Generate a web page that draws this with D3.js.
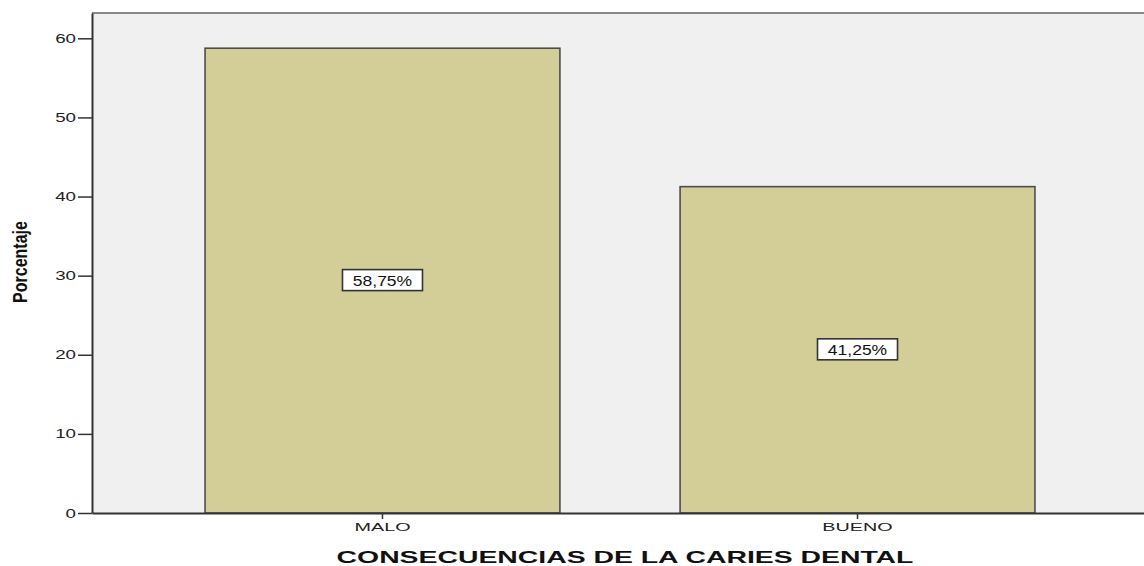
<!DOCTYPE html>
<html>
<head>
<meta charset="utf-8">
<script src="https://cdn.jsdelivr.net/npm/d3@7"></script>
<style>
  body { margin: 0; background: #fff; }
  svg { display: block; font-family: "Liberation Sans", Arial, sans-serif; }
</style>
</head>
<body>
<div id="chart"></div>
<script>
// data
var categories = ['MALO', 'BUENO'];
var percents = [58.75, 41.25];
var valueLabels = ['58,75%', '41,25%'];
var yTicks = [0, 10, 20, 30, 40, 50, 60];

var svgWidth = 1144;
var svgHeight = 566;

var margin = { top: 13, right: -4, bottom: 53, left: 92 };
var chartWidth = svgWidth - margin.left - margin.right;
var chartHeight = svgHeight - margin.top - margin.bottom;

// the original picture is stretched sideways, so texts get a wider x scale
var tickStretch = 1.5;
var catStretch = 1.8;
var valueStretch = 1.25;
var titleStretch = 1.72;

var svg = d3.select('#chart').append('svg')
  .attr('width', svgWidth)
  .attr('height', svgHeight);

var chartGroup = svg.append('g')
  .attr('transform', `translate(${margin.left}, ${margin.top})`);

var yScale = d3.scaleLinear()
  .domain([0, 63.2])
  .range([chartHeight, 0]);

var xScale = d3.scaleBand()
  .domain(categories)
  .range([0, chartWidth])
  .paddingInner(0.253)
  .paddingOuter(0.238);

// background
chartGroup.append('rect')
  .attr('x', 0).attr('y', 0)
  .attr('width', chartWidth).attr('height', chartHeight)
  .attr('fill', '#f0f0f0');

// top border
chartGroup.append('line')
  .attr('x1', 0).attr('x2', chartWidth)
  .attr('y1', 0).attr('y2', 0)
  .attr('stroke', '#888').attr('stroke-width', 2);

// bars
chartGroup.selectAll('rect.bar')
  .data(percents)
  .enter()
  .append('rect')
  .attr('class', 'bar')
  .attr('x', (d, i) => xScale(categories[i]))
  .attr('y', d => yScale(d))
  .attr('width', xScale.bandwidth())
  .attr('height', d => chartHeight - yScale(d))
  .attr('fill', '#d3ce98')
  .attr('stroke', '#4d4d4d')
  .attr('stroke-width', 1.6);

// value labels in boxes
var labelGroups = chartGroup.selectAll('g.vlabel')
  .data(percents)
  .enter()
  .append('g')
  .attr('class', 'vlabel')
  .attr('transform', (d, i) => `translate(${xScale(categories[i]) + xScale.bandwidth() / 2}, ${yScale(d / 2)})`);

labelGroups.append('rect')
  .attr('x', -40).attr('y', -11)
  .attr('width', 80).attr('height', 21)
  .attr('fill', '#fff')
  .attr('stroke', '#333')
  .attr('stroke-width', 1.6);

labelGroups.append('text')
  .attr('text-anchor', 'middle')
  .attr('transform', `scale(${valueStretch}, 1)`)
  .attr('dy', '0.35em')
  .style('font-size', '14px')
  .attr('fill', '#111')
  .text((d, i) => valueLabels[i]);

// y axis
var yAxis = d3.axisLeft(yScale).tickValues(yTicks).tickSize(14).tickSizeOuter(0).tickPadding(2);
var yAxisG = chartGroup.append('g').call(yAxis);
yAxisG.select('.domain').attr('stroke', '#333').attr('stroke-width', 2);
yAxisG.selectAll('.tick line').attr('stroke', '#333').attr('stroke-width', 1.5);
yAxisG.selectAll('.tick text')
  .style('font-size', '12.5px')
  .attr('fill', '#222')
  .attr('x', -16 / tickStretch)
  .attr('transform', `scale(${tickStretch}, 1)`);

// x axis
var xAxis = d3.axisBottom(xScale).tickSize(6).tickSizeOuter(0).tickPadding(4);
var xAxisG = chartGroup.append('g')
  .attr('transform', `translate(0, ${chartHeight})`)
  .call(xAxis);
xAxisG.select('.domain').attr('stroke', '#333').attr('stroke-width', 2);
xAxisG.selectAll('.tick line').attr('stroke', '#333').attr('stroke-width', 1.5);
xAxisG.selectAll('.tick text')
  .style('font-size', '11px')
  .attr('fill', '#222')
  .attr('transform', `scale(${catStretch}, 1)`);

// axis titles
svg.append('text')
  .attr('transform', `translate(625, 563) scale(${titleStretch}, 1)`)
  .attr('text-anchor', 'middle')
  .style('font-size', '16.5px')
  .style('font-weight', 'bold')
  .attr('fill', '#111')
  .text('CONSECUENCIAS DE LA CARIES DENTAL');

svg.append('text')
  .attr('transform', 'translate(27, 262) rotate(-90) scale(1, 1.3)')
  .attr('text-anchor', 'middle')
  .style('font-size', '16px')
  .style('font-weight', 'bold')
  .attr('fill', '#111')
  .text('Porcentaje');
</script>
</body>
</html>
